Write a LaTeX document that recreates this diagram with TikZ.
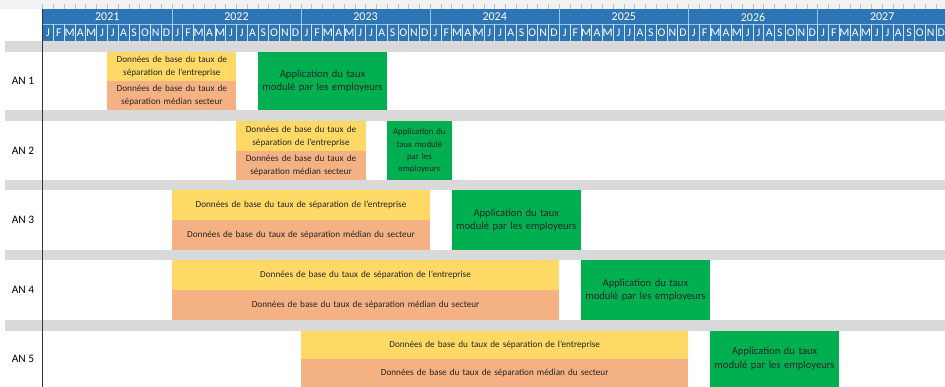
\documentclass[tikz,border=0pt]{standalone}
\usepackage{fontspec}
\setmainfont{Carlito}
\definecolor{hdrblue}{HTML}{2E75B6}
\definecolor{gridline}{HTML}{9DC3E6}
\definecolor{sepgray}{HTML}{D9D9D9}
\definecolor{rulergray}{HTML}{F2F2F2}
\definecolor{tickgray}{HTML}{BFBFBF}
\definecolor{ybar}{HTML}{FFD966}
\definecolor{obar}{HTML}{F4B183}
\definecolor{gbar}{HTML}{00B050}
\definecolor{bartext}{HTML}{262626}
\tikzset{
  barbox/.style={anchor=north west, inner sep=0pt, outer sep=0pt, draw=none, align=center, text=bartext, font=\fontsize{9.2}{13}\selectfont},
  greenbox/.style={barbox, fill=gbar, font=\fontsize{10.6}{13.4}\selectfont},
  yearlbl/.style={text=white, font=\fontsize{12}{13}\selectfont, inner sep=0pt},
  monthlbl/.style={text=white, font=\fontsize{11.8}{12}\selectfont, inner sep=0pt},
  rowlbl/.style={text=black, font=\fontsize{11.4}{12}\selectfont, inner sep=0pt},
}
\newcommand{\mw}{10.7625}
\newcommand{\xo}{42.7}
% \GBar{name}{m1}{m2}{ytop}{ybot}{style}{text}
\newcommand{\GBar}[7]{%
  \pgfmathsetmacro{\gbw}{(#3-#2)*\mw}%
  \pgfmathsetmacro{\gbh}{#5-#4}%
  \node[#6, minimum width=\gbw pt, minimum height=\gbh pt, text width=\gbw pt-4pt] (#1) at ({\xo+\mw*#2},#4) {#7};}
\begin{document}
\begin{tikzpicture}[x=1pt,y=-1pt]
\useasboundingbox (0,0) rectangle (945,387);
\fill[white] (0,0) rectangle (945,387);
% ruler strip
\fill[rulergray] (0,0) rectangle (945,9);
\foreach \m in {0,...,83} {
  \draw[tickgray, line width=0.6pt] ({\xo+\mw*\m},4) -- ({\xo+\mw*\m},9);
}
% header bands
\fill[hdrblue] (\xo,9) rectangle (945,40.7);
\draw[gridline, line width=0.6pt] (\xo,24.5) -- (945,24.5);
\foreach \y [count=\i from 0] in {2021,...,2027} {
  \node[yearlbl] (yr\y) at ({\xo+\mw*(12*\i+6)},17) {\y};
  \ifnum\i>0 \draw[gridline, line width=0.7pt] ({\xo+\mw*12*\i},9) -- ({\xo+\mw*12*\i},24.5); \fi
}
\foreach \yy in {0,...,6} {
  \foreach \ml [count=\j from 0] in {J,F,M,A,M,J,J,A,S,O,N,D} {
    \pgfmathtruncatemacro{\mi}{12*\yy+\j}
    \node[monthlbl] (mo\mi) at ({\xo+\mw*(\mi+0.5)},33.2) {\ml};
    \draw[white!80!hdrblue, line width=0.6pt] ({\xo+\mw*\mi},24.5) -- ({\xo+\mw*\mi},40.7);
  }
}
% separators
\foreach \a/\b in {41.5/52, 110.5/121.5, 180.5/190.5, 250/260.5, 320/330.5} {
  \fill[sepgray] (5,\a) rectangle (945,\b);
}
% row labels
\node[rowlbl] (an1) at (23,81.2) {AN 1};
\node[rowlbl] (an2) at (23,151) {AN 2};
\node[rowlbl] (an3) at (23,220.3) {AN 3};
\node[rowlbl] (an4) at (23,290.3) {AN 4};
\node[rowlbl] (an5) at (23,359) {AN 5};
% AN 1
\GBar{y1}{6}{18}{52}{81.2}{barbox,fill=ybar}{Données de base du taux de\\séparation de l'entreprise}
\GBar{o1}{6}{18}{81.2}{110.5}{barbox,fill=obar}{Données de base du taux de\\séparation médian secteur}
\GBar{g1}{20}{32}{52}{110.5}{greenbox}{Application du taux\\modulé par les employeurs}
% AN 2
\GBar{y2}{18}{30}{121.5}{151}{barbox,fill=ybar}{Données de base du taux de\\séparation de l'entreprise}
\GBar{o2}{18}{30}{151}{180.5}{barbox,fill=obar}{Données de base du taux de\\séparation médian secteur}
\GBar{g2}{32}{38}{121.5}{180.5}{greenbox,font=\fontsize{8.8}{12.3}\selectfont}{Application du\\taux modulé\\par les\\employeurs}
% AN 3
\GBar{y3}{12}{36}{190.5}{220.3}{barbox,fill=ybar}{Données de base du taux de séparation de l'entreprise}
\GBar{o3}{12}{36}{220.3}{250}{barbox,fill=obar}{Données de base du taux de séparation médian du secteur}
\GBar{g3}{38}{50}{190.5}{250}{greenbox}{Application du taux\\modulé par les employeurs}
% AN 4
\GBar{y4}{12}{48}{260.5}{290.3}{barbox,fill=ybar}{Données de base du taux de séparation de l'entreprise}
\GBar{o4}{12}{48}{290.3}{320}{barbox,fill=obar}{Données de base du taux de séparation médian du secteur}
\GBar{g4}{50}{62}{260.5}{320}{greenbox}{Application du taux\\modulé par les employeurs}
% AN 5
\GBar{y5}{24}{60}{330.5}{359}{barbox,fill=ybar}{Données de base du taux de séparation de l'entreprise}
\GBar{o5}{24}{60}{359}{387}{barbox,fill=obar}{Données de base du taux de séparation médian du secteur}
\GBar{g5}{62}{74}{330.5}{387}{greenbox}{Application du taux\\modulé par les employeurs}
% timeline left edge
\draw[black!80, line width=0.9pt] (\xo,9) -- (\xo,387);
\end{tikzpicture}
\end{document}
